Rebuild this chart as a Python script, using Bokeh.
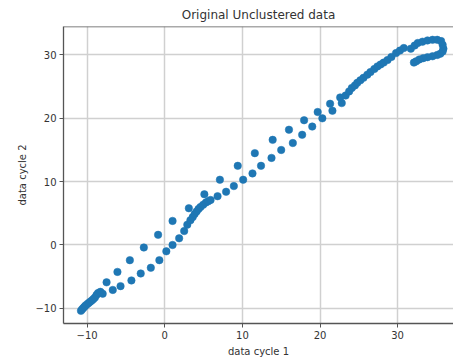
from bokeh.plotting import figure
from bokeh.models import Range1d, FixedTicker, Span
from bokeh.embed import file_html
from bokeh.resources import INLINE

# Lower-left dense start
x_start = [-10.8, -10.65, -10.5, -10.35, -10.2, -10.0, -9.8, -9.6, -9.4, -9.2, -9.0, -8.8, -8.6, -8.3, -8.0]
y_start = [-10.4, -10.15, -9.95, -9.75, -9.55, -9.35, -9.15, -8.95, -8.75, -8.55, -8.3, -7.9, -7.6, -7.4, -7.7]

# Lower (dense) branch
x_low = [-6.7, -5.7, -4.3, -3.1, -1.8, -0.7, 0.2, 1.0, 1.85, 2.5, 2.9, 3.3, 3.6, 3.85, 4.1, 4.35, 4.6, 4.95,
         5.3, 5.6, 5.9, 6.8, 7.9, 8.9, 10.1, 11.3, 12.4, 13.75, 15.0, 16.5, 17.7, 19.0, 20.3, 21.6, 22.8]
y_low = [-7.1, -6.5, -5.6, -4.5, -3.6, -2.4, -1.0, 0.0, 1.05, 2.2, 3.2, 3.9, 4.4, 4.9, 5.3, 5.7, 6.0, 6.35,
         6.7, 6.9, 7.1, 7.7, 8.4, 9.3, 10.3, 11.3, 12.5, 13.75, 15.0, 16.1, 17.4, 18.7, 20.0, 21.2, 22.4]

# Upper (sparse) branch
x_up = [-7.5, -6.1, -4.5, -2.7, -0.86, 1.0, 3.1, 5.1, 7.1, 9.4, 11.6, 13.9, 16.0, 17.95, 19.7, 21.3, 22.6]
y_up = [-5.9, -4.25, -2.4, -0.4, 1.6, 3.8, 5.8, 8.0, 10.3, 12.5, 14.5, 16.6, 18.2, 19.7, 21.0, 22.3, 23.3]

# Upper-right dense part and hook
x_top = [23.3, 23.75, 24.1, 24.5, 24.8, 25.2, 25.6, 26.1, 26.5, 27.0, 27.4, 27.8, 28.2, 28.7, 29.2, 29.8,
         30.3, 30.8, 31.7, 32.2, 32.6, 33.2, 33.85, 34.5, 35.1, 35.6, 35.8, 35.9, 35.8, 35.5, 35.1, 34.5,
         33.85, 33.3, 32.8, 32.4, 32.1]
y_top = [23.6, 24.25, 24.8, 25.2, 25.6, 26.0, 26.4, 26.9, 27.3, 27.8, 28.2, 28.5, 28.8, 29.2, 29.7, 30.3,
         30.7, 31.1, 31.0, 31.5, 31.9, 32.1, 32.3, 32.4, 32.4, 32.2, 31.6, 31.0, 30.55, 30.2, 30.0, 29.8,
         29.65, 29.5, 29.3, 29.0, 28.8]

x_all = x_start + x_low + x_up + x_top
y_all = y_start + y_low + y_up + y_top

tick_vals = [-10, 0, 10, 20, 30]
tick_labels = {-10: "\u221210", 0: "0", 10: "10", 20: "20", 30: "30"}

p = figure(width=453, height=360, output_backend="svg", toolbar_location=None,
           x_range=Range1d(-13.05, 37.2), y_range=Range1d(-12.4, 34.5),
           title="Original Unclustered data",
           min_border_left=63, min_border_right=0, min_border_top=25, min_border_bottom=37)

p.scatter(x_all, y_all, size=7.5, fill_color="#1f77b4", line_color="#1f77b4", line_width=0.5)

p.title.align = "center"
p.title.text_font = "DejaVu Sans"
p.title.text_font_size = "12px"
p.title.text_font_style = "normal"
p.title.text_color = "#333333"

for ax, lab in ((p.xaxis, "data cycle 1"), (p.yaxis, "data cycle 2")):
    ax.ticker = FixedTicker(ticks=tick_vals)
    ax.major_label_overrides = tick_labels
    ax.axis_label = lab
    ax.axis_label_text_font = "DejaVu Sans"
    ax.axis_label_text_font_size = "10px"
    ax.axis_label_text_font_style = "normal"
    ax.axis_label_text_color = "#333333"
    ax.major_label_text_font = "DejaVu Sans"
    ax.major_label_text_font_size = "10px"
    ax.major_label_text_color = "#333333"
    ax.minor_tick_line_color = None
    ax.major_tick_out = 4
    ax.major_tick_in = 0
    ax.major_tick_line_color = "#555555"
    ax.axis_line_color = "#555555"
    ax.axis_line_width = 1.3
    ax.major_label_standoff = 3
    ax.axis_label_standoff = 4

p.yaxis.major_label_orientation = "horizontal"

p.xgrid.grid_line_color = "#d0d0d0"
p.ygrid.grid_line_color = "#d0d0d0"
p.xgrid.grid_line_width = 1.5
p.ygrid.grid_line_width = 1.5

p.outline_line_color = None
p.add_layout(Span(location=34.5, dimension="width", line_color="#555555", line_width=1.3))
p.background_fill_color = "white"
p.border_fill_color = "white"

open("out.html", "w").write(file_html(p, INLINE))
